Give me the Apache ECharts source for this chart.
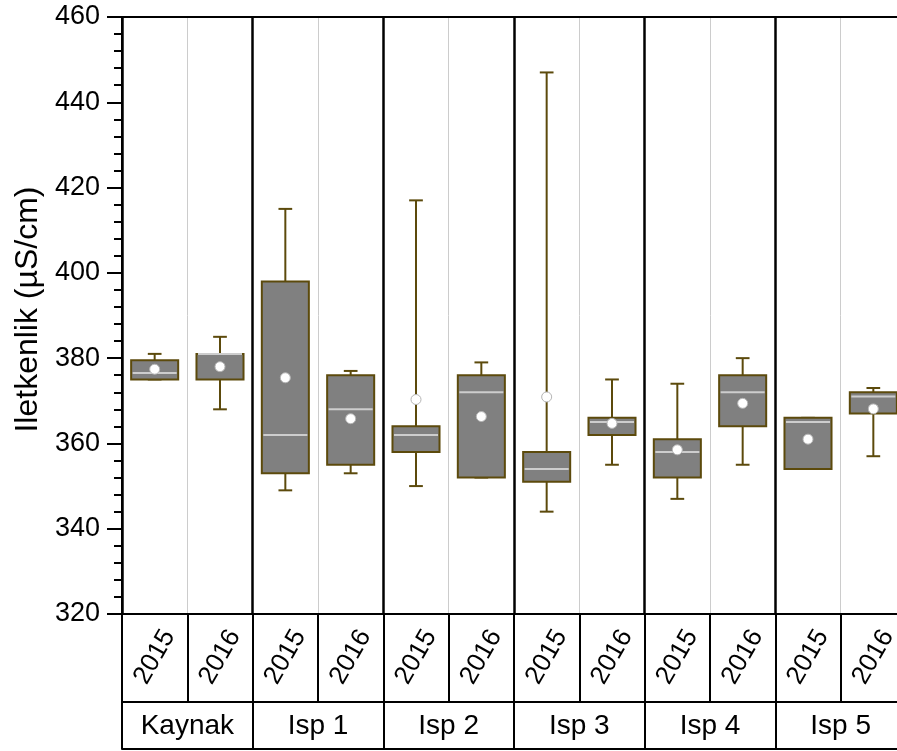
<!DOCTYPE html>
<html>
<head>
<meta charset="utf-8">
<script src="https://cdn.jsdelivr.net/npm/echarts@6/dist/echarts.min.js"></script>
<style>html,body{margin:0;padding:0;background:#fff;}#c{width:897px;height:751px;}</style>
</head>
<body>
<div id="c"></div>
<script>
// ---- data ----
var groups = ['Kaynak', 'Isp 1', 'Isp 2', 'Isp 3', 'Isp 4', 'Isp 5'];
var years = ['2015', '2016'];
var yTicks = [320, 340, 360, 380, 400, 420, 440, 460];
// per category (group x year): min, Q1, median, Q3, max
var mins    = [375, 368, 349, 353, 350, 352, 344, 355, 347, 355, 354, 357];
var q1s     = [375, 375, 353, 355, 358, 352, 351, 362, 352, 364, 354, 367];
var medians = [376.5, 381, 362, 368, 362, 372, 354, 365, 358, 372, 365, 371];
var q3s     = [379.5, 381, 398, 376, 364, 376, 358, 366, 361, 376, 366, 372];
var maxs    = [381, 385, 415, 377, 417, 379, 447, 375, 374, 380, 366, 373];
var means   = [377.4, 378, 375.4, 365.8, 370.3, 366.3, 370.9, 364.7, 358.5, 369.4, 361, 368.1];

// ---- build ----
var cats = [];
groups.forEach(function (g) { years.forEach(function (y) { cats.push(g + '|' + y); }); });
var boxData = cats.map(function (c, i) { return [i, mins[i], q1s[i], medians[i], q3s[i], maxs[i]]; });
var meanData = cats.map(function (c, i) { return [i, means[i]]; });

var EDGE = '#5c4a0c';
var FONT = 'Liberation Sans, Arial, sans-serif';

function renderBox(params, api) {
  var i = api.value(0);
  var pMin = api.coord([i, api.value(1)]);
  var pQ1 = api.coord([i, api.value(2)]);
  var pMed = api.coord([i, api.value(3)]);
  var pQ3 = api.coord([i, api.value(4)]);
  var pMax = api.coord([i, api.value(5)]);
  var band = api.size([1, 0])[0];
  var half = band * 0.36;
  var cap = band * 0.105;
  var cx = pMed[0];
  var edge = { stroke: EDGE, lineWidth: 2 };
  return {
    type: 'group',
    children: [
      { type: 'line', shape: { x1: cx, y1: pMax[1], x2: cx, y2: pQ3[1] }, style: edge },
      { type: 'line', shape: { x1: cx, y1: pQ1[1], x2: cx, y2: pMin[1] }, style: edge },
      { type: 'line', shape: { x1: cx - cap, y1: pMax[1], x2: cx + cap, y2: pMax[1] }, style: edge },
      { type: 'line', shape: { x1: cx - cap, y1: pMin[1], x2: cx + cap, y2: pMin[1] }, style: edge },
      { type: 'rect', shape: { x: cx - half, y: pQ3[1], width: 2 * half, height: pQ1[1] - pQ3[1] },
        style: { fill: '#808080', stroke: EDGE, lineWidth: 2 } },
      { type: 'line', shape: { x1: cx - half + 1.5, y1: pMed[1], x2: cx + half - 1.5, y2: pMed[1] },
        style: { stroke: '#cdcdcd', lineWidth: 2 } }
    ]
  };
}

var chart = echarts.init(document.getElementById('c'), null, { renderer: 'canvas' });
chart.setOption({
  animation: false,
  backgroundColor: '#ffffff',
  textStyle: { fontFamily: FONT },
  grid: { left: 122, top: 17, width: 784, height: 597, containLabel: false, outerBoundsMode: 'none' },
  xAxis: [
    {
      type: 'category', data: cats, position: 'bottom', boundaryGap: true,
      axisLine: { show: true, lineStyle: { color: '#000', width: 2 } },
      axisTick: { show: true, length: 88, lineStyle: { color: '#000', width: 2 } },
      axisLabel: {
        show: true, interval: 0, rotate: 60, align: 'center', verticalAlign: 'middle',
        margin: 43, fontSize: 26, color: '#000', fontFamily: FONT,
        formatter: function (v) { return v.split('|')[1]; }
      },
      splitLine: { show: true, lineStyle: { color: '#cccccc', width: 1 } }
    },
    {
      type: 'category', data: groups, position: 'bottom', offset: 88, boundaryGap: true,
      axisLine: { show: true, lineStyle: { color: '#000', width: 2 } },
      axisTick: { show: true, length: 47, lineStyle: { color: '#000', width: 2 } },
      axisLabel: { show: true, interval: 0, margin: 10, fontSize: 28, color: '#000', fontFamily: FONT },
      splitLine: { show: true, lineStyle: { color: '#000', width: 2.5 } }
    },
    {
      type: 'category', data: groups, position: 'top',
      axisLine: { show: true, lineStyle: { color: '#000', width: 2 } },
      axisTick: { show: false }, axisLabel: { show: false }, splitLine: { show: false }
    },
    {
      type: 'category', data: groups, position: 'bottom', offset: 135,
      axisLine: { show: true, lineStyle: { color: '#000', width: 2 } },
      axisTick: { show: false }, axisLabel: { show: false }, splitLine: { show: false }
    }
  ],
  yAxis: {
    type: 'value', min: yTicks[0], max: yTicks[yTicks.length - 1], interval: 20,
    name: 'Iletkenlik (\u00b5S/cm)', nameLocation: 'middle', nameRotate: 90, nameGap: 78,
    nameTextStyle: { fontSize: 32, color: '#000', fontFamily: FONT, padding: [0, 0, 0, 12] },
    axisLine: { show: true, lineStyle: { color: '#000', width: 2 } },
    axisTick: { show: true, length: 15, lineStyle: { color: '#000', width: 2 } },
    minorTick: { show: true, splitNumber: 5, length: 8, lineStyle: { color: '#000', width: 2 } },
    axisLabel: { fontSize: 27, color: '#000', margin: 22, fontFamily: FONT },
    splitLine: { show: false }
  },
  series: [
    {
      type: 'custom', name: 'box', xAxisIndex: 0, yAxisIndex: 0,
      renderItem: renderBox, data: boxData,
      encode: { x: 0, y: [1, 2, 3, 4, 5] }, z: 3
    },
    {
      type: 'scatter', name: 'mean', xAxisIndex: 0, yAxisIndex: 0,
      data: meanData, symbol: 'circle', symbolSize: 10, z: 4,
      itemStyle: { color: '#ffffff', borderColor: '#b5b5b5', borderWidth: 1, opacity: 1 }
    }
  ]
});
</script>
</body>
</html>
